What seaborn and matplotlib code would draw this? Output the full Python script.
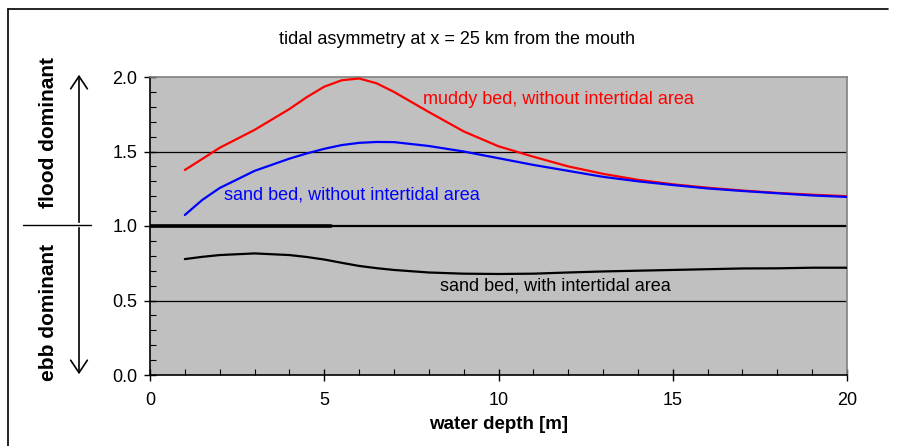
import numpy as np
import pandas as pd
import matplotlib
matplotlib.use("Agg")
import matplotlib.pyplot as plt
import seaborn as sns
from matplotlib.ticker import MultipleLocator

depth = [1, 1.5, 2, 3, 4, 4.5, 5, 5.5, 6, 6.5, 7, 8, 9, 10, 11, 12, 13, 14, 15, 16, 17, 18, 19, 20]
muddy_no_intertidal = [1.376, 1.45, 1.525, 1.645, 1.785, 1.865, 1.935, 1.978, 1.99, 1.958, 1.90,
                       1.765, 1.635, 1.535, 1.465, 1.40, 1.35, 1.31, 1.28, 1.257, 1.238, 1.222, 1.21, 1.20]
sand_no_intertidal = [1.074, 1.175, 1.255, 1.37, 1.452, 1.487, 1.518, 1.543, 1.558, 1.564, 1.563,
                      1.537, 1.50, 1.455, 1.41, 1.37, 1.33, 1.30, 1.275, 1.252, 1.235, 1.22, 1.205, 1.195]
sand_intertidal = [0.778, 0.793, 0.805, 0.816, 0.805, 0.792, 0.775, 0.753, 0.732, 0.717, 0.705,
                   0.688, 0.68, 0.678, 0.68, 0.688, 0.695, 0.70, 0.705, 0.71, 0.715, 0.716, 0.72, 0.72]
ref_x = [0, 5.2]
ref_y = [1.0, 1.0]

x_ticks = [0, 5, 10, 15, 20]
y_ticks = [0.0, 0.5, 1.0, 1.5, 2.0]

sns.set_style("ticks")
plt.rcParams['font.family'] = ['Liberation Sans', 'DejaVu Sans']
plt.rcParams['text.color'] = 'black'
plt.rcParams['axes.labelcolor'] = 'black'
plt.rcParams['xtick.color'] = 'black'
plt.rcParams['ytick.color'] = 'black'

fig = plt.figure(figsize=(8.97, 4.46), dpi=100)
ax = fig.add_axes([150/897, 1-375/446, (847-150)/897, (375-77)/446])
ax.set_facecolor('#C0C0C0')

for yv in [0.5, 1.0, 1.5]:
    ax.axhline(yv, color='black', lw=1.6 if yv == 1.0 else 0.9, zorder=1)
sns.lineplot(x=ref_x, y=ref_y, color='black', lw=2.6, ax=ax, zorder=2)

sns.lineplot(x=depth, y=muddy_no_intertidal, color='#FF0000', lw=1.6, ax=ax, zorder=3)
sns.lineplot(x=depth, y=sand_no_intertidal, color='#0000FF', lw=1.6, ax=ax, zorder=3)
sns.lineplot(x=depth, y=sand_intertidal, color='black', lw=1.6, ax=ax, zorder=3)

ax.text(7.83, 1.846, 'muddy bed, without intertidal area', color='#FF0000', fontsize=13, va='center', ha='left')
ax.text(2.12, 1.208, 'sand bed, without intertidal area', color='#0000FF', fontsize=13, va='center', ha='left')
ax.text(8.32, 0.597, 'sand bed, with intertidal area', color='black', fontsize=13, va='center', ha='left')

ax.set_xlim(0, 20)
ax.set_ylim(0, 2.0)
ax.set_xticks(x_ticks)
ax.set_yticks(y_ticks)
ax.set_xticklabels([str(v) for v in x_ticks])
ax.set_yticklabels([f'{v:.1f}' for v in y_ticks])
ax.xaxis.set_minor_locator(MultipleLocator(1))
ax.yaxis.set_minor_locator(MultipleLocator(0.1))
ax.tick_params(which='major', direction='inout', length=8, width=1, labelsize=13, color='black', labelcolor='black')
ax.tick_params(which='minor', direction='in', length=4, width=0.8, color='black')
ax.tick_params(axis='x', which='major', pad=8)
ax.tick_params(axis='y', which='major', pad=5)

for side in ['top', 'right']:
    ax.spines[side].set_visible(True)
    ax.spines[side].set_color('#808080')
    ax.spines[side].set_linewidth(1.2)
for side in ['left', 'bottom']:
    ax.spines[side].set_color('black')
    ax.spines[side].set_linewidth(1.2)

ax.set_xlabel('water depth [m]', fontsize=13.5, fontweight='bold', labelpad=5, color='black')
ax.set_ylabel('')

fig.text(457/897, 1-40/446, 'tidal asymmetry at x = 25 km from the mouth', ha='center', va='center', fontsize=13)

fig.text(48/897, 1-132/446, 'flood dominant', rotation=90, ha='center', va='center', fontsize=15, fontweight='bold')
fig.text(48/897, 1-312/446, 'ebb dominant', rotation=90, ha='center', va='center', fontsize=15, fontweight='bold')

fig.add_artist(plt.Line2D([23/897, 91/897], [1-225/446, 1-225/446], color='black', lw=1, transform=fig.transFigure))
fig.add_artist(matplotlib.patches.FancyArrowPatch((79/897, 1-225/446), (79/897, 1-72/446),
               arrowstyle='->,head_length=6,head_width=4', color='black', lw=1.2, transform=fig.transFigure, mutation_scale=1.5))
fig.add_artist(matplotlib.patches.FancyArrowPatch((79/897, 1-225/446), (79/897, 1-377/446),
               arrowstyle='->,head_length=6,head_width=4', color='black', lw=1.2, transform=fig.transFigure, mutation_scale=1.5))

fig.add_artist(plt.Line2D([8/897, 888/897], [1-9/446, 1-9/446], color='black', lw=1.2, transform=fig.transFigure))
fig.add_artist(plt.Line2D([8/897, 8/897], [1-9/446, 0], color='black', lw=1.2, transform=fig.transFigure))

fig.savefig('out.png', dpi=100)
